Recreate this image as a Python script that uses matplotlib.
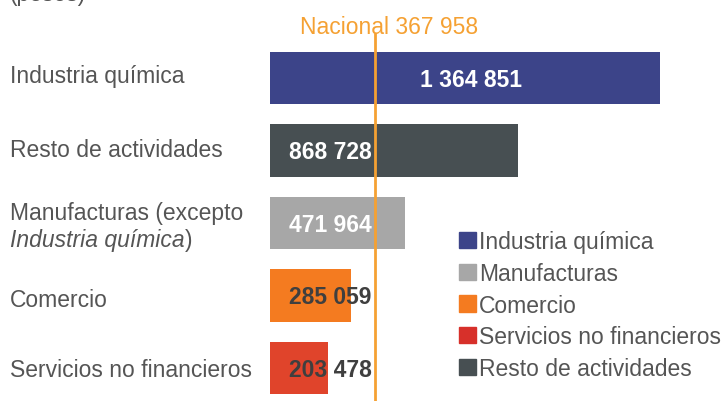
import matplotlib.pyplot as plt
from matplotlib.patches import Patch

plt.rcParams['font.family'] = ['Liberation Sans', 'DejaVu Sans']

# ---------- datos ----------
categorias = ["Industria química", "Resto de actividades", "Manufacturas",
              "Comercio", "Servicios no financieros"]
valores = [1364851, 868728, 471964, 285059, 203478]
etiquetas = ["1 364 851", "868 728", "471 964", "285 059", "203 478"]
colores = ["#3c4489", "#474f52", "#a7a7a7", "#f47b20", "#e0442b"]
nacional = 367958
nacional_txt = "Nacional 367 958"

leyenda = ["Industria química", "Manufacturas", "Comercio",
           "Servicios no financieros", "Resto de actividades"]
leyenda_col = ["#3c4489", "#a7a7a7", "#f47b20", "#d7302a", "#474f52"]

gris = "#555555"
naranja = "#f5a133"
fs = 16.5

fig = plt.figure(figsize=(7.25, 4.02), dpi=100)
ax = fig.add_axes([270 / 725, 0, 455 / 725, 1])
ax.set_xlim(0, valores[0] * 455 / 390)
ax.set_ylim((402 - 79) / 72.5, -79 / 72.5)
ax.axis("off")

ypos = list(range(len(valores)))
ax.barh(ypos, valores, height=0.72, color=colores)

# etiquetas de valor
for i, (v, t) in enumerate(zip(valores, etiquetas)):
    c = "white" if i < 3 else "#3f3f3f"
    if i == 0:
        ax.text(v / 2 + 20000, i + 0.02, t, ha="center", va="center",
                color=c, fontsize=fs, fontweight="bold")
    else:
        ax.text(65000, i + 0.02, t, ha="left", va="center",
                color=c, fontsize=fs, fontweight="bold")

# línea nacional
ax.axvline(nacional, ymin=0, ymax=(402 - 35) / 402, color=naranja, lw=2)
ax.text(nacional + 50000, (27 - 79) / 72.5, nacional_txt, ha="center",
        va="center", color=naranja, fontsize=fs)

# etiquetas de categoría (a la izquierda)
xl = 10 / 725
def fy(px):
    return 1 - px / 402

fig.text(xl, fy(76), categorias[0], color=gris, fontsize=fs, va="center")
fig.text(xl, fy(151), categorias[1], color=gris, fontsize=fs, va="center")
fig.text(xl, fy(214), "Manufacturas (excepto", color=gris, fontsize=fs, va="center")
t_it = fig.text(xl, fy(241), "Industria química", color=gris, fontsize=fs,
                va="center", style="italic")
r = fig.canvas.get_renderer()
bb = t_it.get_window_extent(renderer=r)
fig.text(bb.x1 / fig.bbox.width, fy(241), ")", color=gris, fontsize=fs, va="center")
fig.text(xl, fy(301), categorias[3], color=gris, fontsize=fs, va="center")
fig.text(xl, fy(371), categorias[4], color=gris, fontsize=fs, va="center")

# título cortado arriba
fig.text(xl, fy(-5), "(pesos)", color=gris, fontsize=fs, va="center")

# leyenda
handles = [Patch(color=c, label=l) for c, l in zip(leyenda_col, leyenda)]
fig.legend(handles=handles, loc="upper left", bbox_to_anchor=(450 / 725, fy(222)),
           frameon=False, fontsize=fs, handlelength=0.72, handleheight=0.72,
           handletextpad=0.15, labelspacing=0.38, borderaxespad=0, labelcolor=gris)

fig.savefig("out.png", dpi=100)
